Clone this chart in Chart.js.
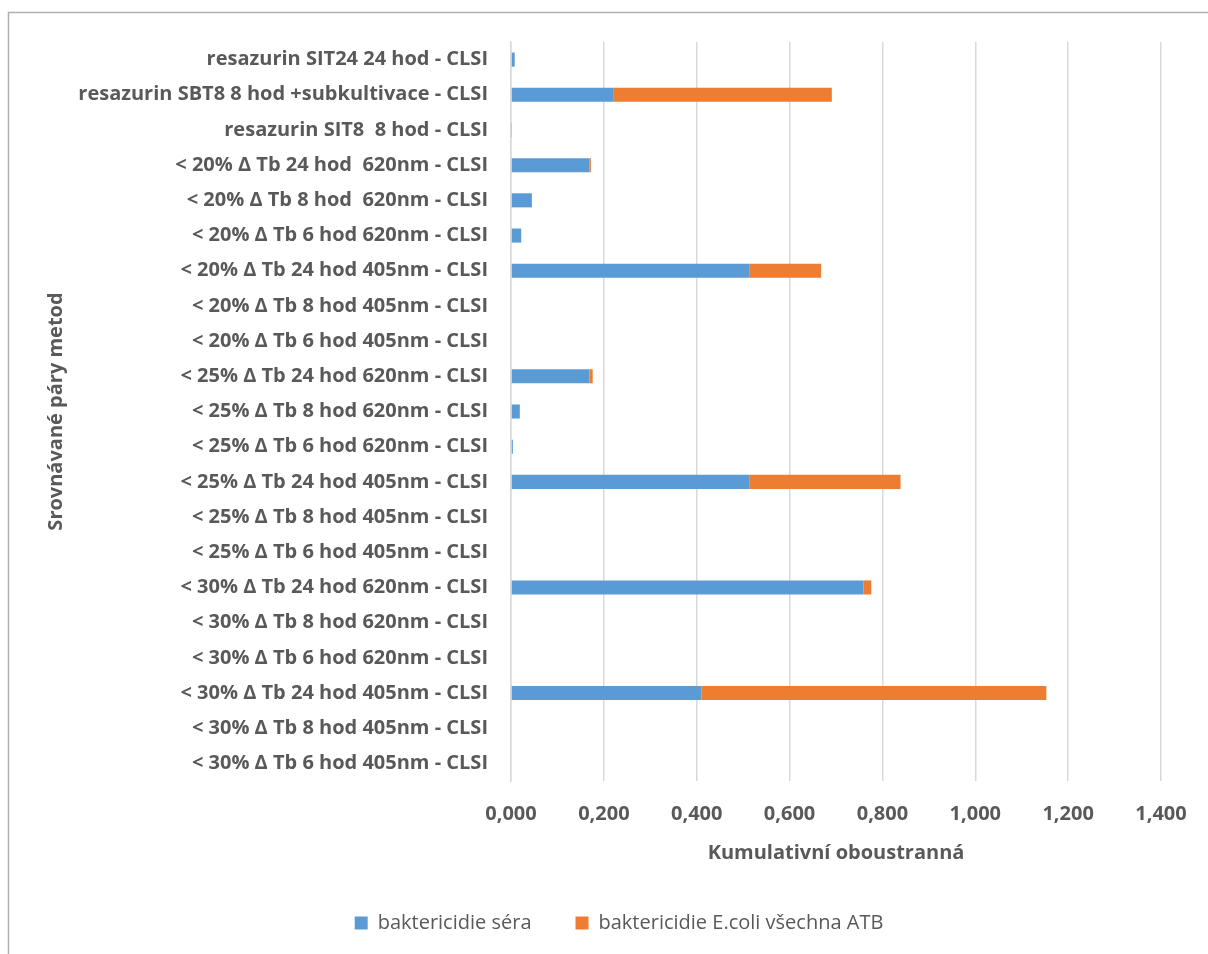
<!DOCTYPE html>
<html>
<head>
<meta charset="utf-8">
<script src="https://cdn.jsdelivr.net/npm/chart.js@4.4.1/dist/chart.umd.min.js"></script>
<style>
  html, body { margin: 0; padding: 0; background: #ffffff; }
  #wrap { position: absolute; left: 0; top: 0; width: 1208px; height: 954px; }
</style>
</head>
<body>
<div id="wrap"><canvas id="c" width="1208" height="954"></canvas></div>
<script>
const categories = [
  "resazurin SIT24 24 hod - CLSI",
  "resazurin SBT8 8 hod +subkultivace - CLSI",
  "resazurin SIT8  8 hod - CLSI",
  "< 20% Δ Tb 24 hod  620nm - CLSI",
  "< 20% Δ Tb 8 hod  620nm - CLSI",
  "< 20% Δ Tb 6 hod 620nm - CLSI",
  "< 20% Δ Tb 24 hod 405nm - CLSI",
  "< 20% Δ Tb 8 hod 405nm - CLSI",
  "< 20% Δ Tb 6 hod 405nm - CLSI",
  "< 25% Δ Tb 24 hod 620nm - CLSI",
  "< 25% Δ Tb 8 hod 620nm - CLSI",
  "< 25% Δ Tb 6 hod 620nm - CLSI",
  "< 25% Δ Tb 24 hod 405nm - CLSI",
  "< 25% Δ Tb 8 hod 405nm - CLSI",
  "< 25% Δ Tb 6 hod 405nm - CLSI",
  "< 30% Δ Tb 24 hod 620nm - CLSI",
  "< 30% Δ Tb 8 hod 620nm - CLSI",
  "< 30% Δ Tb 6 hod 620nm - CLSI",
  "< 30% Δ Tb 24 hod 405nm - CLSI",
  "< 30% Δ Tb 8 hod 405nm - CLSI",
  "< 30% Δ Tb 6 hod 405nm - CLSI"
];
const seraValues = [0.008, 0.220, 0.001, 0.169, 0.045, 0.022, 0.513, 0, 0, 0.169, 0.019, 0.004, 0.513, 0, 0, 0.759, 0, 0, 0.410, 0, 0];
const ecoliValues = [0, 0.471, 0, 0.003, 0, 0, 0.155, 0, 0, 0.007, 0, 0, 0.326, 0, 0, 0.017, 0, 0, 0.743, 0, 0];
const seriesNames = ["baktericidie séra", "baktericidie E.coli všechna ATB"];
const xTicks = [0, 0.2, 0.4, 0.6, 0.8, 1.0, 1.2, 1.4];
const xTitle = "Kumulativní oboustranná";
const yTitle = "Srovnávané páry metod";

const FONT = "'Open Sans'";
const GREY = "#595959";

const frame = {
  id: 'frame',
  beforeDraw(chart) {
    const ctx = chart.ctx;
    ctx.save();
    ctx.fillStyle = '#ffffff';
    ctx.fillRect(0, 0, chart.width, chart.height);
    ctx.strokeStyle = '#b0b0b0';
    ctx.lineWidth = 1.5;
    ctx.strokeRect(8.5, 12.5, 1400, 1200);
    ctx.restore();
  }
};

new Chart(document.getElementById('c'), {
  type: 'bar',
  data: {
    labels: categories,
    datasets: [
      { label: seriesNames[0], data: seraValues, backgroundColor: '#5b9bd5', borderWidth: 0,
        barPercentage: 0.40, categoryPercentage: 1.0 },
      { label: seriesNames[1], data: ecoliValues, backgroundColor: '#ed7d31', borderWidth: 0,
        barPercentage: 0.40, categoryPercentage: 1.0 }
    ]
  },
  options: {
    indexAxis: 'y',
    responsive: false,
    animation: false,
    devicePixelRatio: 1,
    layout: { padding: { left: 77, right: 47, top: 42, bottom: 11 } },
    scales: {
      x: {
        stacked: true,
        min: 0, max: 1.4,
        afterBuildTicks(scale) { scale.ticks = xTicks.map(v => ({ value: v })); },
        afterFit(scale) { scale.height = 88; },
        grid: { color: '#d9d9d9', lineWidth: 1.5, drawTicks: false },
        border: { display: false },
        ticks: {
          padding: 21,
          color: GREY,
          font: { family: FONT, size: 20, weight: 'bold' },
          callback: (v) => Number(v).toFixed(3).replace('.', ',')
        },
        title: {
          display: true, text: xTitle, color: GREY,
          font: { family: FONT, size: 20, weight: 'bold' },
          padding: { top: 0, bottom: 4 }
        }
      },
      y: {
        stacked: true,
        afterFit(scale) { scale.width = 511 - 77; },
        grid: { display: false, drawTicks: false },
        border: { display: true, color: '#d9d9d9', width: 1.5 },
        ticks: {
          padding: 23,
          color: GREY,
          autoSkip: false,
          font: { family: FONT, size: 20, weight: 'bold' }
        },
        title: {
          display: true, text: yTitle, color: GREY,
          font: { family: FONT, size: 20, weight: 'bold' },
          padding: { top: -33, bottom: 0 }
        }
      }
    },
    plugins: {
      legend: {
        position: 'bottom',
        labels: {
          boxWidth: 13, boxHeight: 13, padding: 44,
          color: GREY,
          font: { family: FONT, size: 20 }
        }
      },
      tooltip: { enabled: false }
    }
  },
  plugins: [frame]
});
</script>
</body>
</html>
